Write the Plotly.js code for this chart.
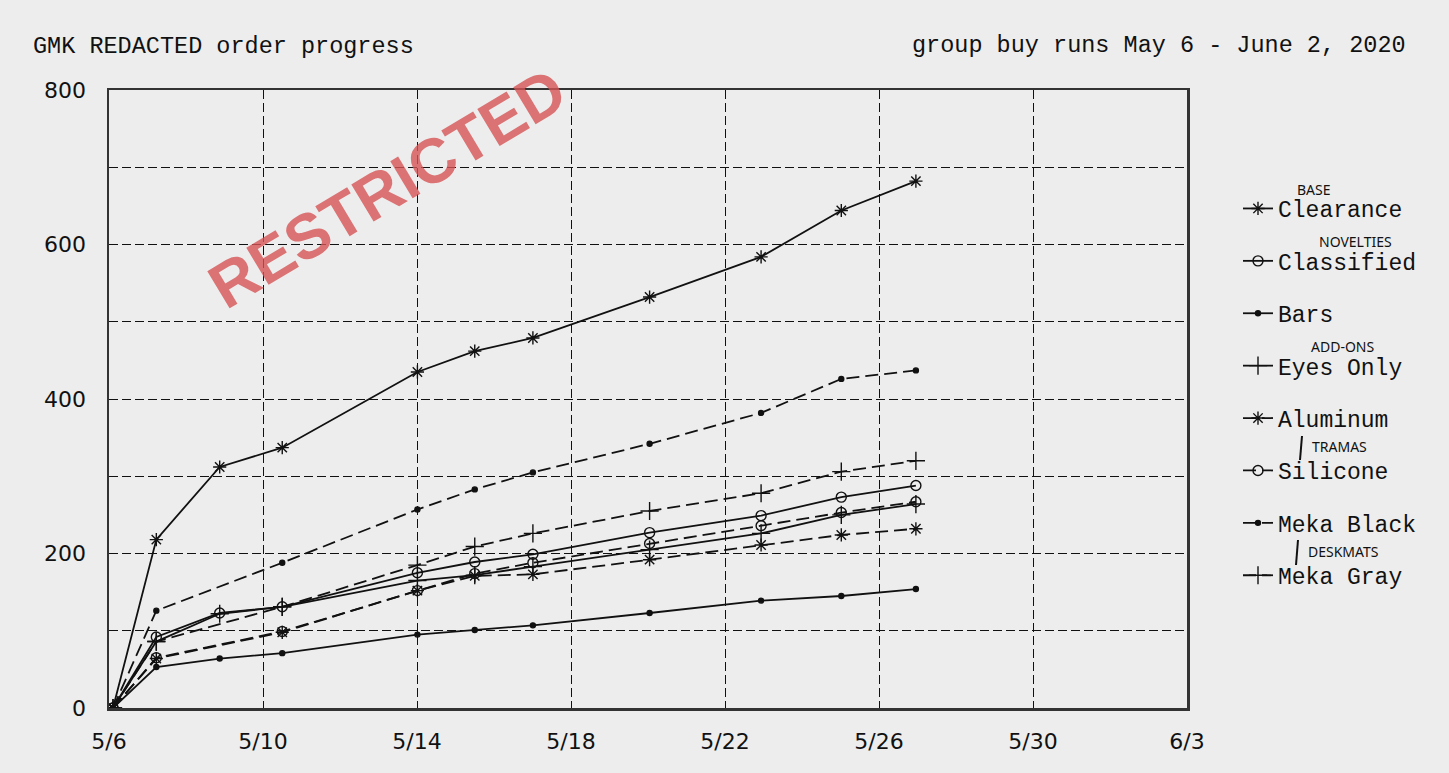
<!DOCTYPE html>
<html>
<head>
<meta charset="utf-8">
<script src="https://cdn.plot.ly/plotly-3.0.1.min.js"></script>
<style>
  html, body { margin: 0; padding: 0; background: #ededed; }
  #chart { width: 1449px; height: 773px; }
</style>
</head>
<body>
<div id="chart"></div>
<script>
// ---- data ----
const timesSolid = ['2020-05-06 02:30','2020-05-07 05:30','2020-05-08 21:00','2020-05-10 12:00','2020-05-14 00:15','2020-05-15 12:00','2020-05-17 00:15','2020-05-20 01:00','2020-05-22 22:30','2020-05-25 00:30','2020-05-26 23:00'];
const timesDashed = ['2020-05-06 02:30','2020-05-07 05:30','2020-05-10 12:00','2020-05-14 00:15','2020-05-15 12:00','2020-05-17 00:15','2020-05-20 01:00','2020-05-22 22:30','2020-05-25 00:30','2020-05-26 23:00'];

const clearance  = [0, 218, 312, 337, 435, 462, 479, 532, 584, 644, 682];
const classified = [0, 92, 123, 131, 175, 189, 199, 227, 249, 273, 288];
const bars       = [0, 53, 64, 71, 95, 101, 107, 123, 139, 145, 154];
const eyesOnly   = [0, 86, 122, 131, 165, 172, 183, 205, 226, 250, 264];

const aluminum   = [0, 64, 98, 152, 171, 173, 192, 211, 224, 232];
const silicone   = [0, 65, 99, 152, 174, 188, 213, 236, 253, 267];
const mekaBlack  = [0, 126, 188, 257, 283, 305, 342, 382, 426, 437];
const mekaGray   = [0, 86, 131, 185, 209, 226, 255, 278, 306, 320];

const seriesNames = ['Clearance','Classified','Bars','Eyes Only','Aluminum','Silicone','Meka Black','Meka Gray'];

const yTickVals = [0, 100, 200, 300, 400, 500, 600, 700, 800];
const yTickText = ['0', '', '200', '', '400', '', '600', '', '800'];

const titleText = 'GMK REDACTED order progress';
const subText = 'group buy runs May 6 - June 2, 2020';
const stampText = 'RESTRICTED';
const notes = ['BASE','NOVELTIES','ADD-ONS','TRAMAS','DESKMATS'];

// ---- styling ----
const INK = '#111';
const mono = 'Liberation Mono, DejaVu Sans Mono, monospace';
const DASH = '13px,6px';

function tr(name, x, y, dash, symbol, size, idx) {
  return {
    type: 'scatter', mode: 'lines+markers', name: name,
    x: x, y: y, legendgroup: 'g' + idx,
    line: { color: INK, width: 1.8, dash: dash },
    marker: { symbol: symbol, size: size, color: INK, line: { color: INK, width: 1.4 } },
    hoverinfo: 'x+y+name'
  };
}

const data = [
  tr(seriesNames[0], timesSolid, clearance, 'solid', 'asterisk-open', 11, 0),
  tr(seriesNames[1], timesSolid, classified, 'solid', 'circle-open', 10, 1),
  tr(seriesNames[2], timesSolid, bars, 'solid', 'circle', 5, 2),
  tr(seriesNames[3], timesSolid, eyesOnly, 'solid', 'cross-thin-open', 13, 3),
  tr(seriesNames[4], timesDashed, aluminum, DASH, 'asterisk-open', 11, 4),
  tr(seriesNames[5], timesDashed, silicone, DASH, 'circle-open', 10, 5),
  tr(seriesNames[6], timesDashed, mekaBlack, DASH, 'circle', 5, 6),
  tr(seriesNames[7], timesDashed, mekaGray, DASH, 'cross-thin-open', 13, 7)
];

const L = 109, R = 1187, T = 90, B = 708, W = 1449, H = 773;
const px = v => (v - L) / (R - L);
const py = v => (B - v) / (B - T);

const noteFont = { family: 'Noto Sans, DejaVu Sans, sans-serif', size: 14, color: INK };

const layout = {
  width: W, height: H,
  paper_bgcolor: '#ededed', plot_bgcolor: 'rgba(0,0,0,0)',
  margin: { l: L, r: W - R, t: T, b: H - B, pad: 0 },
  font: { family: 'DejaVu Sans, sans-serif', color: INK },
  title: {
    text: titleText, xref: 'container', yref: 'container',
    x: 33 / W, xanchor: 'left', y: 1 - 45 / H, yanchor: 'middle',
    font: { family: mono, size: 23.5, color: INK }
  },
  showlegend: true,
  legend: {
    x: px(1238), xanchor: 'left', y: py(187), yanchor: 'top',
    bgcolor: 'rgba(0,0,0,0)', borderwidth: 0,
    font: { family: mono, size: 23, color: INK },
    tracegroupgap: 19.5, itemwidth: 30, traceorder: 'grouped'
  },
  xaxis: {
    type: 'date', range: ['2020-05-06', '2020-06-03'],
    tick0: '2020-05-06', dtick: 4 * 86400000, tickformat: '%-m/%-d',
    showgrid: true, gridcolor: INK, gridwidth: 1, griddash: '9px,4px',
    showline: true, linecolor: '#333', linewidth: 2.5, mirror: true,
    ticks: '', ticklabelstandoff: 12, zeroline: false,
    tickfont: { family: 'DejaVu Sans, sans-serif', size: 22, color: INK }
  },
  yaxis: {
    range: [0, 800], tickmode: 'array', tickvals: yTickVals, ticktext: yTickText,
    showgrid: true, gridcolor: INK, gridwidth: 1, griddash: '9px,4px',
    showline: true, linecolor: '#333', linewidth: 2.5, mirror: true,
    ticks: '', ticklabelstandoff: 16, zeroline: false,
    tickfont: { family: 'DejaVu Sans, sans-serif', size: 22, color: INK }
  },
  annotations: [
    { text: subText, xref: 'paper', yref: 'paper', x: px(1408), y: py(45),
      xanchor: 'right', yanchor: 'middle', showarrow: false,
      font: { family: mono, size: 23.5, color: INK } },
    { text: '<b>' + stampText + '</b>', xref: 'paper', yref: 'paper', x: px(387), y: py(188),
      xanchor: 'center', yanchor: 'middle', showarrow: false, textangle: -31,
      font: { family: 'Liberation Sans, Arial, sans-serif', size: 63, color: 'rgba(214,82,84,0.8)' } },
    { text: notes[0], xref: 'paper', yref: 'paper', x: px(1314), y: py(189), xanchor: 'center', yanchor: 'middle', showarrow: false, font: noteFont },
    { text: notes[1], xref: 'paper', yref: 'paper', x: px(1355), y: py(242), xanchor: 'center', yanchor: 'middle', showarrow: false, font: noteFont },
    { text: notes[2], xref: 'paper', yref: 'paper', x: px(1342), y: py(346), xanchor: 'center', yanchor: 'middle', showarrow: false, font: noteFont },
    { text: notes[3], xref: 'paper', yref: 'paper', x: px(1310), y: py(446), xanchor: 'left', yanchor: 'middle', showarrow: false, font: noteFont },
    { text: notes[4], xref: 'paper', yref: 'paper', x: px(1306), y: py(551), xanchor: 'left', yanchor: 'middle', showarrow: false, font: noteFont }
  ],
  shapes: [
    { type: 'line', xref: 'paper', yref: 'paper', x0: px(1302), x1: px(1300), y0: py(436), y1: py(460), line: { color: INK, width: 2 } },
    { type: 'line', xref: 'paper', yref: 'paper', x0: px(1298), x1: px(1296), y0: py(540), y1: py(565), line: { color: INK, width: 2 } }
  ]
};

Plotly.newPlot('chart', data, layout, { displayModeBar: false, staticPlot: true });
</script>
</body>
</html>
